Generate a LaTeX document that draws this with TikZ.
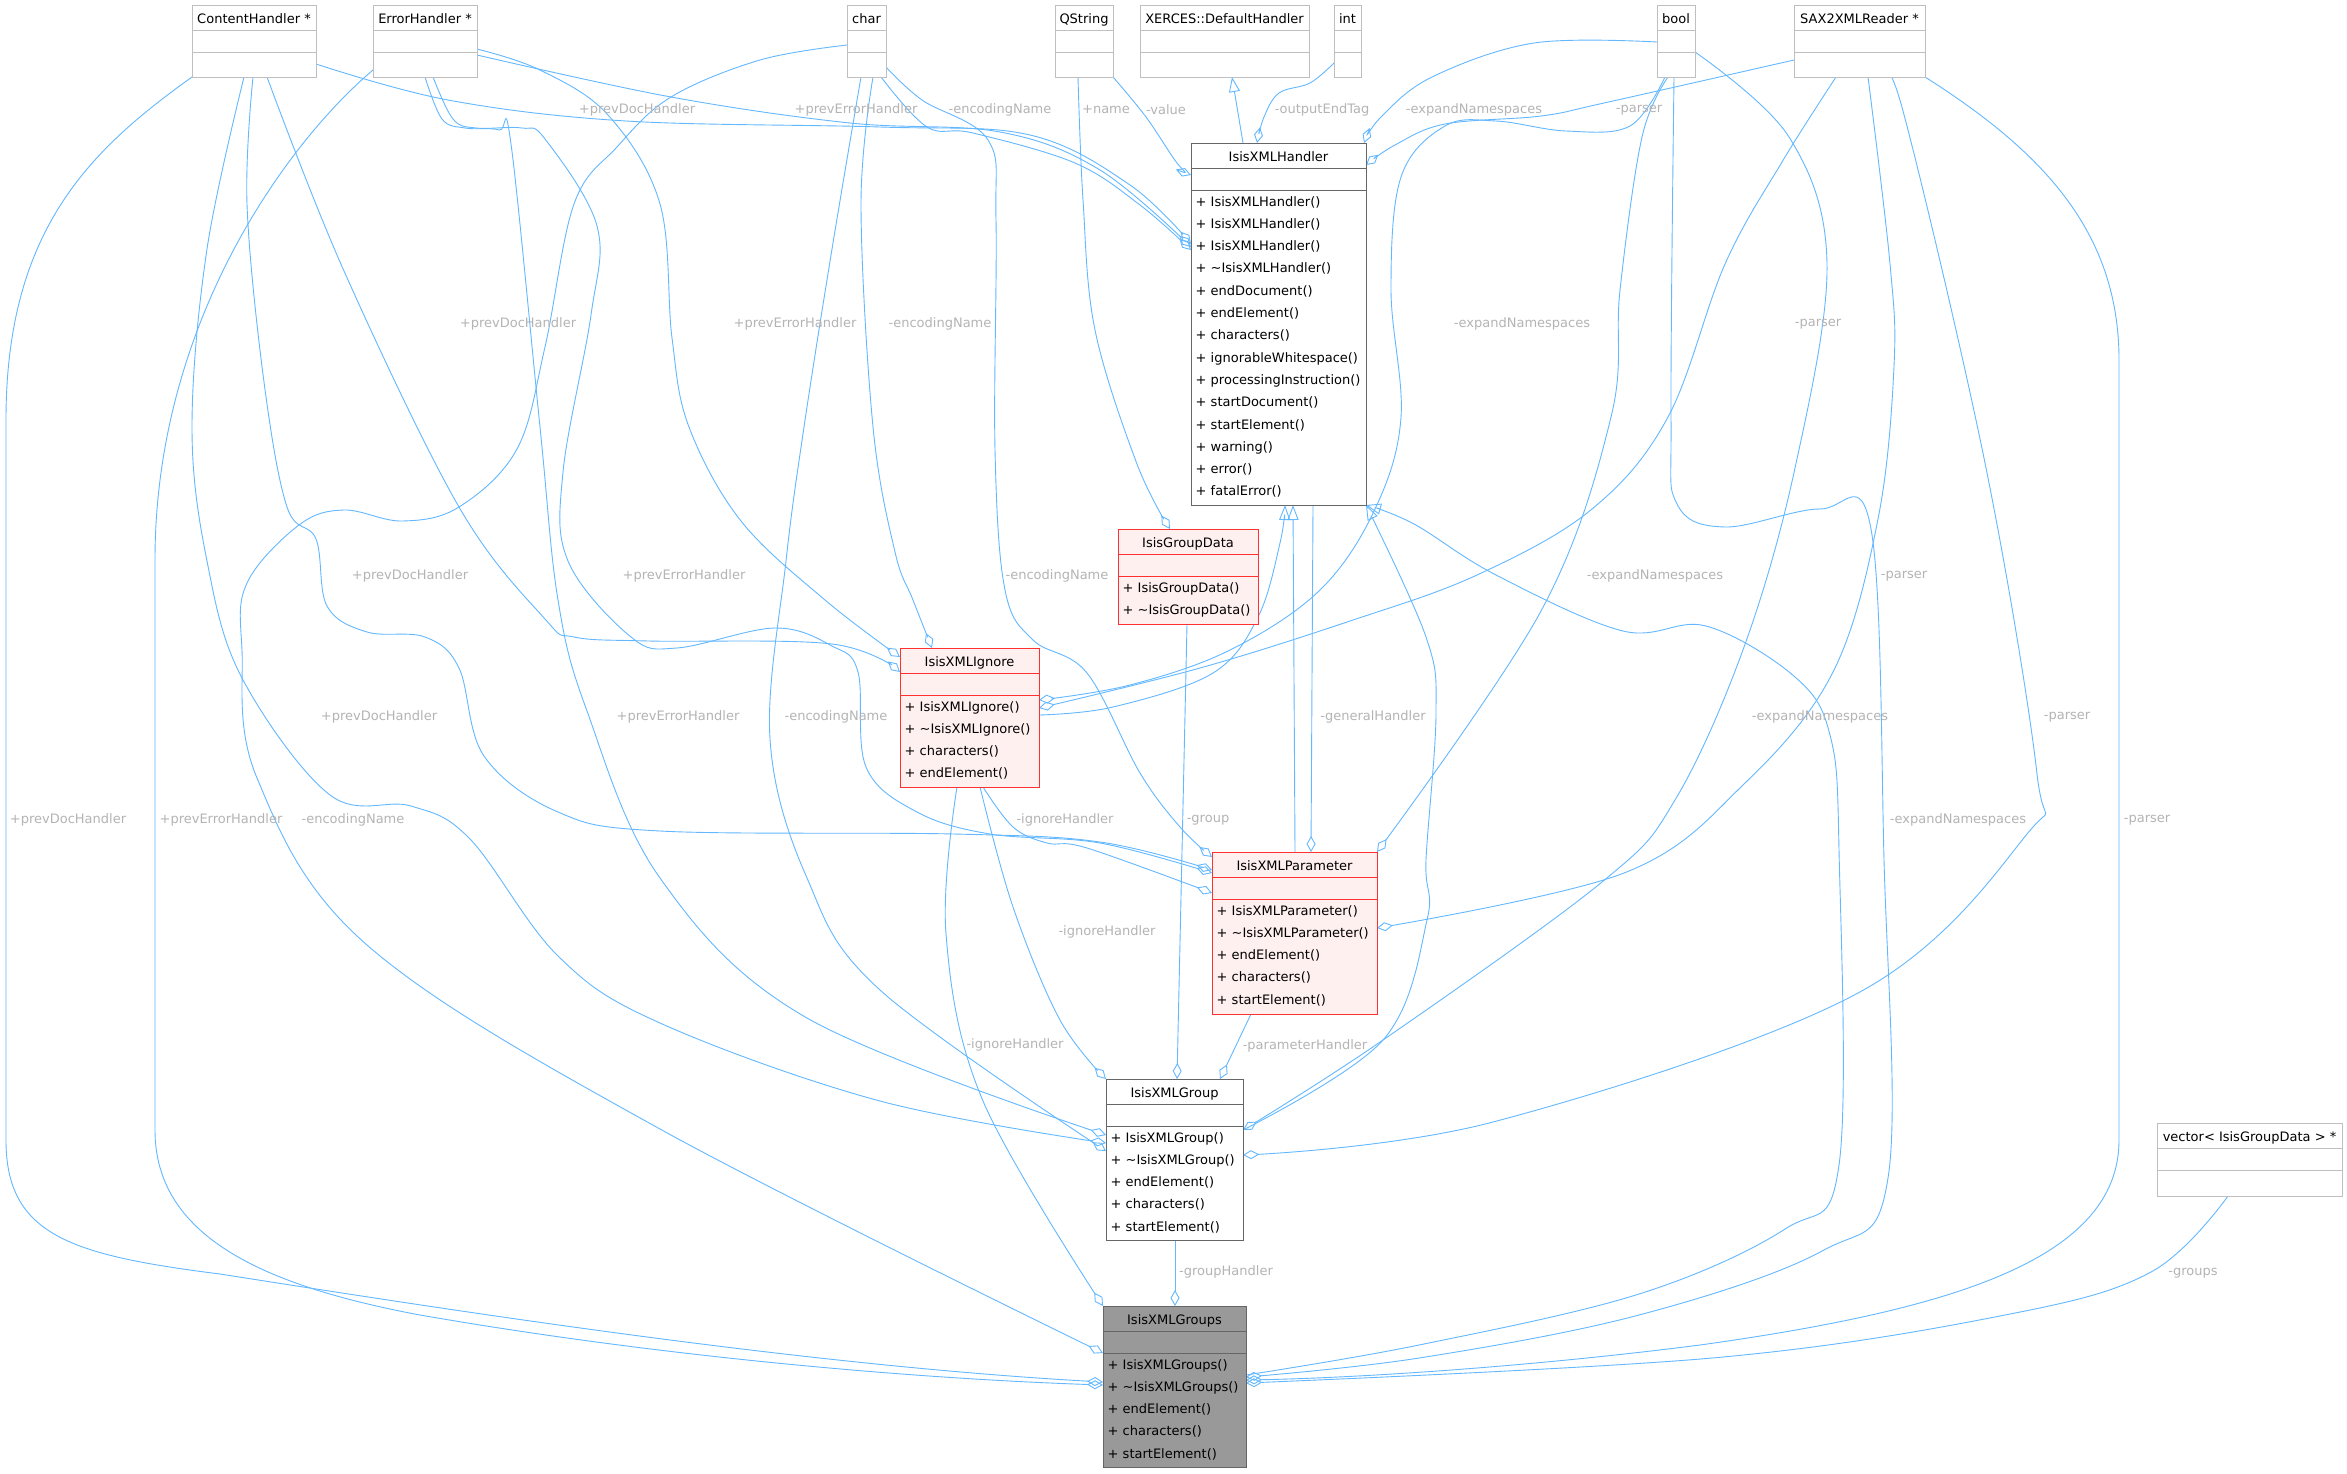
\documentclass[tikz,border=0pt]{standalone}
\usepackage{fontspec}
\setmainfont{DejaVu Sans}
\usetikzlibrary{arrows.meta,calc}
\pgfdeclarelayer{bg}
\pgfsetlayers{bg,main}
\definecolor{edgeblue}{HTML}{63B8FF}
\definecolor{lblgray}{HTML}{B4B4B4}
\definecolor{cgb}{HTML}{BFBFBF}
\definecolor{cgd}{HTML}{666666}
\definecolor{cred}{HTML}{FF3030}
\definecolor{redfill}{HTML}{FFF0F0}
\definecolor{mainfill}{HTML}{999999}
\tikzset{
  txt/.style={inner sep=0pt, font=\fontsize{13}{15}\selectfont},
  lbl/.style={txt, text=lblgray},
  plainbox/.style={draw=cgb, fill=white, line width=1pt, inner sep=0pt, outer sep=0pt},
  darkbox/.style={draw=cgd, fill=white, line width=1pt, inner sep=0pt, outer sep=0pt},
  redbox/.style={draw=cred, fill=redfill, line width=1pt, inner sep=0pt, outer sep=0pt},
  mainbox/.style={draw=cgd, fill=mainfill, line width=1pt, inner sep=0pt, outer sep=0pt},
  agg/.style={draw=edgeblue, line width=0.9pt, -{Diamond[open,length=16pt,width=9pt]}},
  inh/.style={draw=edgeblue, line width=0.9pt, -{Triangle[open,length=15pt,width=11pt]}},
  sm/.style={smooth, tension=0.6},
}
\newcommand{\umlclass}[7]{%
  \node[#2, anchor=north west, minimum width=#5pt, minimum height=#6pt] (#1) at (#3,#4) {};
  \draw[#2] ($(#1.north west)+(0,25)$) -- ($(#1.north east)+(0,25)$);
  \draw[#2] ($(#1.north west)+(0,47)$) -- ($(#1.north east)+(0,47)$);
  \node[txt, anchor=base] (#1-t) at ($(#1.north)+(0,18)$) {#7};
}
\newcommand{\umlmethods}[2]{%
  \foreach \m [count=\i from 0] in {#2} {
    \pgfmathsetmacro\yy{63+22.3*\i}
    \node[txt, anchor=base west] (#1-m\i) at ($(#1.north west)+(4.5,\yy)$) {+ \m};
  }%
}
\begin{document}
\begin{tikzpicture}[x=1pt,y=-1pt]
\useasboundingbox (0,0) rectangle (2347,1473);
% ---------- classes
\umlclass{ch}{plainbox}{192}{5}{124}{72}{ContentHandler *}
\umlclass{eh}{plainbox}{373}{5}{104}{72}{ErrorHandler *}
\umlclass{chr}{plainbox}{847}{5}{39}{72}{char}
\umlclass{qs}{plainbox}{1055}{5}{58}{72}{QString}
\umlclass{xd}{plainbox}{1140}{5}{169}{72}{XERCES::DefaultHandler}
\umlclass{intn}{plainbox}{1334}{5}{27}{72}{int}
\umlclass{bl}{plainbox}{1657}{5}{38}{72}{bool}
\umlclass{sax}{plainbox}{1794}{5}{131}{72}{SAX2XMLReader *}
\umlclass{vec}{plainbox}{2157}{1123}{185}{73}{vector< IsisGroupData > *}
\umlclass{hdl}{darkbox}{1191}{143}{175}{362}{IsisXMLHandler}
\umlmethods{hdl}{IsisXMLHandler(),IsisXMLHandler(),IsisXMLHandler(),\textasciitilde IsisXMLHandler(),endDocument(),endElement(),characters(),ignorableWhitespace(),processingInstruction(),startDocument(),startElement(),warning(),error(),fatalError()}
\umlclass{gd}{redbox}{1118}{529}{140}{95}{IsisGroupData}
\umlmethods{gd}{IsisGroupData(),\textasciitilde IsisGroupData()}
\umlclass{ign}{redbox}{900}{648}{139}{139}{IsisXMLIgnore}
\umlmethods{ign}{IsisXMLIgnore(),\textasciitilde IsisXMLIgnore(),characters(),endElement()}
\umlclass{par}{redbox}{1212}{852}{165}{162}{IsisXMLParameter}
\umlmethods{par}{IsisXMLParameter(),\textasciitilde IsisXMLParameter(),endElement(),characters(),startElement()}
\umlclass{grp}{darkbox}{1106}{1079}{137}{161}{IsisXMLGroup}
\umlmethods{grp}{IsisXMLGroup(),\textasciitilde IsisXMLGroup(),endElement(),characters(),startElement()}
\umlclass{grps}{mainbox}{1103}{1306}{143}{161}{IsisXMLGroups}
\umlmethods{grps}{IsisXMLGroups(),\textasciitilde IsisXMLGroups(),endElement(),characters(),startElement()}
% ---------- edges
\begin{pgfonlayer}{bg}
\fill[white] (0,0) rectangle (2347,1473);
% into IsisXMLHandler
\draw[agg] plot[sm] coordinates {([yshift=-59pt]ch.north east) (448,100) (626,121) (880,127) (1030,135) (1130,185) ([yshift=-101pt]hdl.north west)};
\draw[agg] plot[sm] coordinates {([yshift=-50pt]eh.north east) (671,97) (850,123) (1000,132) (1100,170) ([yshift=-104pt]hdl.north west)};
\draw[agg] plot[sm] coordinates {([xshift=-5pt]chr.south east) (927,127) (973,133) (1075,163) (1140,205) ([yshift=-107pt]hdl.north west)};
\draw[agg] plot[sm] coordinates {(qs.south east) (1146,117) (1177,163) ([yshift=-32pt]hdl.north west)};
\draw[inh] ([xshift=52pt]hdl.north west) -- ([xshift=7.5pt]xd.south);
\draw[agg] plot[sm] coordinates {([yshift=14pt]intn.south west) (1310,83) (1279,93) (1264,117) ([xshift=66pt]hdl.north west)};
\draw[agg] plot[sm] coordinates {([yshift=-37pt]bl.north west) (1534,43) (1432,77) (1381,117) ([xshift=-2pt]hdl.north east)};
\draw[agg] plot[sm] coordinates {([yshift=-55pt]sax.north west) (1604,103) (1541,116) (1445,124) (1395,145) ([yshift=-22pt]hdl.north east)};
% into IsisGroupData
\draw[agg] plot[sm] coordinates {([xshift=23pt]qs.south west) (1083,200) (1095,330) (1137,464) ([xshift=52pt]gd.north west)};
% into IsisXMLIgnore
\draw[agg] plot[sm] coordinates {([xshift=75pt]ch.south west) (344,271) (459,507) (545,619) (574,637) (649,641) (832,644) ([yshift=-24pt]ign.north west)};
\draw[agg] plot[sm] coordinates {([yshift=-44pt]eh.north east) (540,70) (608,115) (660,204) (672,338) (689,427) (741,521) (825,600) ([yshift=-9pt]ign.north west)};
\draw[agg] plot[sm] coordinates {([xshift=26pt]chr.south west) (861,204) (873,427) (895,552) (913,600) ([xshift=32pt]ign.north west)};
\draw[agg] plot[sm] coordinates {([xshift=8pt]bl.south west) (1630,126) (1566,131) (1496,121) (1445,126) (1401,177) (1391,290) (1401,417) (1375,509) (1320,590) (1230,650) (1130,685) ([yshift=-52pt]ign.north east)};
\draw[agg] plot[sm] coordinates {([xshift=42pt]sax.south west) (1782,162) (1725,264) (1668,417) (1592,509) (1477,575) (1350,621) (1200,668) ([yshift=-60pt]ign.north east)};
\draw[inh] plot[sm] coordinates {([yshift=-67pt]ign.north east) (1113,707) (1213,673) (1258,617) (1280,543) ([xshift=94pt]hdl.south west)};
% into IsisXMLParameter
\draw[agg] plot[sm] coordinates {([xshift=61pt]ch.south west) (247,204) (264,382) (287,507) (316,539) (327,606) (367,632) (425,637) (459,668) (484,756) (558,812) (660,831) (954,834) (1100,842) ([yshift=-18pt]par.north west)};
\draw[agg] plot[sm] coordinates {([xshift=60pt]eh.south west) (453,119) (476,128) (522,128) (545,139) (597,226) (591,315) (563,472) (568,561) (631,637) (677,648) (775,628) (832,646) (858,672) (866,767) (917,812) (990,834) (1100,843) ([yshift=-21pt]par.north west)};
\draw[agg] plot[sm] coordinates {([yshift=-62pt]chr.north east) (922,100) (988,140) (996,220) (995,450) (1005,590) (1033,640) (1087,673) (1140,773) (1180,827) ([yshift=-5pt]par.north west)};
\draw[agg] plot[sm] coordinates {([xshift=11pt]bl.south west) (1642,137) (1620,290) (1611,417) (1541,611) (par.north east)};
\draw[agg] plot[sm] coordinates {([xshift=74pt]sax.south west) (1890,264) (1894,366) (1878,519) (1833,672) (1744,784) (1624,873) ([yshift=-76pt]par.north east)};
\draw[agg] ([xshift=122pt]hdl.south west) -- ([xshift=99pt]par.north west);
\draw[agg] plot[sm] coordinates {([xshift=83pt]ign.south west) (1013,827) (1047,843) (1087,848) ([yshift=-41pt]par.north west)};
\draw[inh] ([xshift=83pt]par.north west) -- ([xshift=102pt]hdl.south west);
% into IsisXMLGroup
\draw[agg] ([xshift=69pt]gd.south west) -- ([xshift=71pt]grp.north west);
\draw[agg] plot[sm] coordinates {([xshift=52pt]ch.south west) (207,249) (192,427) (207,561) (242,678) (330,795) (411,806) (470,839) (558,956) (660,1023) (880,1101) ([yshift=-64pt]grp.north west)};
\draw[agg] plot[sm] coordinates {([xshift=52pt]eh.south west) (442,119) (465,128) (499,130) (511,144) (540,427) (558,600) (587,711) (660,878) (807,1018) ([yshift=-56pt]grp.north west)};
\draw[agg] plot[sm] coordinates {([xshift=14pt]chr.south west) (832,249) (804,427) (786,561) (770,739) (807,878) (880,990) ([yshift=-72pt]grp.north west)};
\draw[agg] plot[sm] coordinates {([yshift=-47pt]bl.north east) (1789,137) (1827,264) (1795,468) (1744,647) (1675,800) (1602,882) (1383,1040) ([yshift=-51pt]grp.north east)};
\draw[agg] plot[sm] coordinates {([xshift=87pt]sax.south west) (1903,111) (1986,468) (2037,774) (2027,834) (1858,993) (1493,1122) ([yshift=-76pt]grp.north east)};
\draw[agg] plot[sm] coordinates {([xshift=80pt]ign.south west) (1013,907) (1060,1020) (grp.north west)};
\draw[agg] ([xshift=39pt]par.south west) -- ([xshift=114pt]grp.north west);
\draw[inh] plot[sm] coordinates {([yshift=-51pt]grp.north east) (1383,1040) (1427,920) (1426,860) (1436,713) (1426,637) (hdl.south east)};
% into IsisXMLGroups
\draw[inh] plot[sm] coordinates {([yshift=-69pt]grps.north east) (1419,1345) (1639,1294) (1785,1229) (1839,1165) (1839,850) (1830,735) (1795,677) (1706,626) (1623,631) (1496,575) (1414,524) (hdl.south east)};
\draw[agg] (ch.south west) .. controls (90,150) and (6,230) .. (6,420) -- (6,1140)
  .. controls (6,1235) and (70,1255) .. (220,1274) .. controls (450,1310) and (800,1365) .. ([yshift=-76pt]grps.north west);
\draw[agg] ([yshift=7pt]eh.south west) .. controls (290,140) and (155,320) .. (155,560) -- (155,1130)
  .. controls (155,1235) and (260,1285) .. (420,1315) .. controls (650,1355) and (900,1378) .. ([yshift=-79pt]grps.north west);
\draw[agg] plot[sm] coordinates {([yshift=-40pt]chr.north west) (760,60) (671,97) (617,147) (574,204) (545,347) (517,449) (459,507) (402,521) (344,510) (299,525) (247,583) (242,650) (257,778) (367,945) (660,1129) ([yshift=-47pt]grps.north west)};
\draw[agg] plot[sm] coordinates {([xshift=57pt]ign.south west) (946,934) (983,1101) (grps.north west)};
\draw[agg] ([xshift=69pt]grp.south west) -- ([xshift=72pt]grps.north west);
\draw[agg] plot[sm] coordinates {([xshift=17pt]bl.south west) (1671,417) (1677,504) (1725,527) (1820,509) (1871,529) (1884,860) (1888,1178) (1822,1251) (1639,1315) (1419,1358) ([yshift=-71pt]grps.north east)};
\draw[agg] (sax.south east) .. controls (2040,150) and (2119,230) .. (2119,360) -- (2119,1140)
  .. controls (2119,1260) and (1950,1310) .. (1700,1345) .. controls (1520,1368) and (1350,1378) .. ([yshift=-74pt]grps.north east);
\draw[agg] plot[sm] coordinates {([xshift=71pt]vec.south west) (2151,1272) (2005,1315) (1712,1358) ([yshift=-77pt]grps.north east)};
\end{pgfonlayer}
% ---------- labels
\node[lbl] (la1) at (637,110) {+prevDocHandler};
\node[lbl] (la2) at (856,110) {+prevErrorHandler};
\node[lbl] (la3) at (1000,110) {-encodingName};
\node[lbl] (la4) at (1106,110) {+name};
\node[lbl] (la5) at (1166,110) {-value};
\node[lbl] (la6) at (1322,110) {-outputEndTag};
\node[lbl] (la7) at (1474,110) {-expandNamespaces};
\node[lbl] (la8) at (1639,110) {-parser};
\node[lbl] (lb1) at (518,324) {+prevDocHandler};
\node[lbl] (lb2) at (795,324) {+prevErrorHandler};
\node[lbl] (lb3) at (940,324) {-encodingName};
\node[lbl] (lb4) at (1522,324) {-expandNamespaces};
\node[lbl] (lb5) at (1818,324) {-parser};
\node[lbl] (lc1) at (410,576) {+prevDocHandler};
\node[lbl] (lc2) at (684,576) {+prevErrorHandler};
\node[lbl] (lc3) at (1057,576) {-encodingName};
\node[lbl] (lc4) at (1655,576) {-expandNamespaces};
\node[lbl] (lc5) at (1904,576) {-parser};
\node[lbl] (ld1) at (379,717) {+prevDocHandler};
\node[lbl] (ld2) at (678,717) {+prevErrorHandler};
\node[lbl] (ld3) at (836,717) {-encodingName};
\node[lbl] (ld4) at (1373,717) {-generalHandler};
\node[lbl] (ld5) at (1820,717) {-expandNamespaces};
\node[lbl] (ld6) at (2067,717) {-parser};
\node[lbl] (le1) at (68,820) {+prevDocHandler};
\node[lbl] (le2) at (221,820) {+prevErrorHandler};
\node[lbl] (le3) at (353,820) {-encodingName};
\node[lbl] (le4) at (1065,820) {-ignoreHandler};
\node[lbl] (le5) at (1208,820) {-group};
\node[lbl] (le6) at (1958,820) {-expandNamespaces};
\node[lbl] (le7) at (2147,820) {-parser};
\node[lbl] (lf1) at (1107,932) {-ignoreHandler};
\node[lbl] (lg1) at (1015,1045) {-ignoreHandler};
\node[lbl] (lg2) at (1305,1046) {-parameterHandler};
\node[lbl] (lh1) at (1226,1272) {-groupHandler};
\node[lbl] (lh2) at (2193,1273) {-groups};
\end{tikzpicture}
\end{document}
